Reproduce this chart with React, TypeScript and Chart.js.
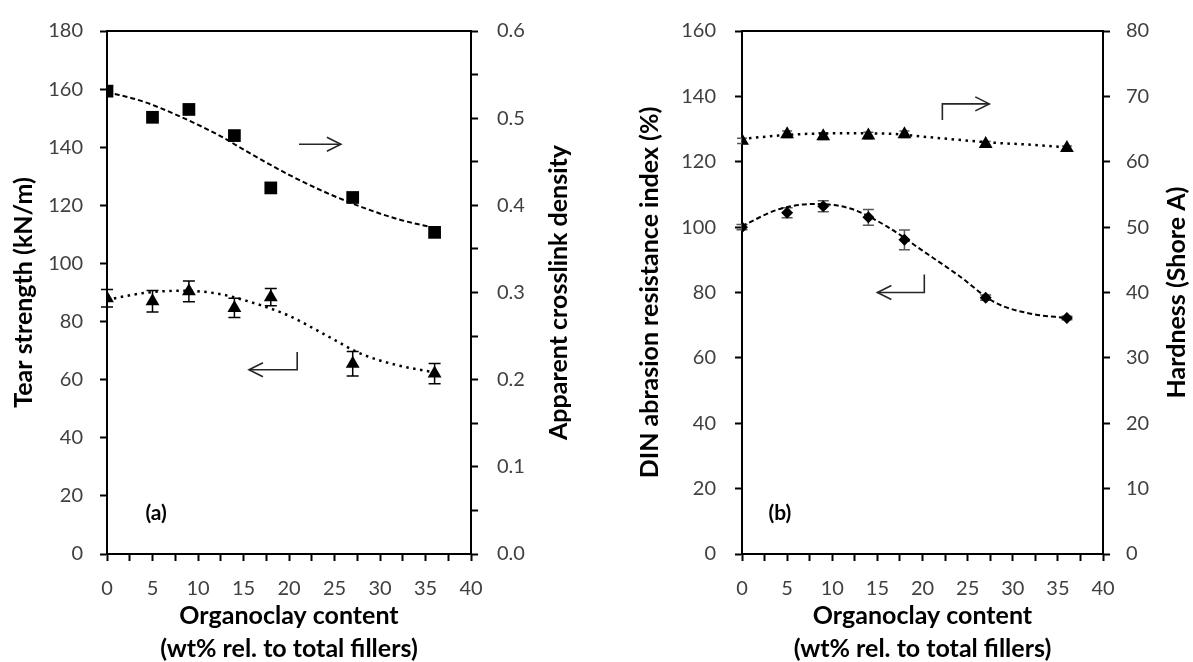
import React, { useEffect, useRef } from 'react';
import { Chart, registerables } from 'chart.js';

Chart.register(...registerables);

// ---------- data ----------
const organoclayContent = [0, 5, 9, 14, 18, 27, 36];

// panel (a)
const tearStrength = [88, 87, 90.4, 84.7, 88.4, 65.5, 62.1];
const tearStrengthError = [3, 3.7, 3.6, 3.3, 3, 4.2, 3.5];
const crosslinkDensity = [0.531, 0.501, 0.51, 0.48, 0.42, 0.409, 0.369];

// panel (b)
const dinAbrasionIndex = [100, 104.4, 106.4, 103.0, 96.1, 78.4, 72.2];
const dinAbrasionError = [0.8, 1.5, 1.7, 2.4, 3, 0.8, 0.5];
const hardnessShoreA = [63.2, 64.2, 63.9, 64.0, 64.2, 62.7, 62.1];
const hardnessError = [0.4, 0.5, 0.5, 0.5, 0.5, 0.4, 0.3];

// trend lines
const trendContent = [0, 4, 8, 12, 16, 20, 24, 28, 32, 36];
const tearTrend = [87.5, 89.8, 90.6, 89.7, 86.5, 82, 75.4, 68.8, 64.9, 62.5];
const crosslinkTrend = [0.53, 0.519, 0.502, 0.482, 0.458, 0.435, 0.415, 0.398, 0.384, 0.374];
const dinTrend = [100.3, 105.4, 107.1, 105.7, 100.3, 92.8, 85.2, 77.0, 73.5, 72.2];
const hardnessTrend = [63.5, 64.0, 64.3, 64.35, 64.3, 63.85, 63.35, 62.9, 62.6, 62.2];

const xTitleLines = ['Organoclay content', '(wt% rel. to total fillers)'];

const FONT = 'Lato, "Open Sans", "DejaVu Sans", sans-serif';
const TICK_COLOR = '#404040';

const pts = (xs: number[], ys: number[]) => xs.map((x, i) => ({ x, y: ys[i] }));

const decorPlugin = {
  id: 'decor',
  beforeDatasetsDraw(chart: any) {
    const ctx = chart.ctx;
    chart.data.datasets.forEach((ds: any, di: number) => {
      if (!ds.errorBars) return;
      const meta = chart.getDatasetMeta(di);
      const yScale = chart.scales[ds.yAxisID];
      ctx.save();
      ctx.strokeStyle = ds.errorColor || '#000';
      ctx.lineWidth = 1.5;
      ds.data.forEach((p: any, i: number) => {
        const e = ds.errorBars[i];
        if (!e) return;
        const el = meta.data[i];
        const x = el.x;
        const yt = yScale.getPixelForValue(p.y + e);
        const yb = yScale.getPixelForValue(p.y - e);
        const w = ds.errorCap || 5.5;
        ctx.beginPath();
        ctx.moveTo(x, yt);
        ctx.lineTo(x, yb);
        ctx.moveTo(x - w, yt);
        ctx.lineTo(x + w, yt);
        ctx.moveTo(x - w, yb);
        ctx.lineTo(x + w, yb);
        ctx.stroke();
      });
      ctx.restore();
    });
  },
  afterDraw(chart: any) {
    const cfg = chart.options.plugins.decor;
    if (!cfg) return;
    const ctx = chart.ctx;
    const a = chart.chartArea;
    ctx.save();
    // top frame line
    ctx.strokeStyle = '#000';
    ctx.lineWidth = 2;
    ctx.beginPath();
    ctx.moveTo(a.left - 1, a.top);
    ctx.lineTo(a.right + 1, a.top);
    ctx.stroke();

    // axis titles
    ctx.fillStyle = '#000';
    ctx.font = `bold 25px ${FONT}`;
    ctx.textAlign = 'center';
    ctx.textBaseline = 'middle';
    const cx = (a.left + a.right) / 2;
    ctx.fillText(xTitleLines[0], cx, a.bottom + 62);
    ctx.fillText(xTitleLines[1], cx, a.bottom + 95);
    const cy = (a.top + a.bottom) / 2;
    const ys: [string, number][] = [
      [cfg.yLeftTitle, cfg.yLeftX],
      [cfg.yRightTitle, cfg.yRightX],
    ];
    ys.forEach(([t, x]) => {
      ctx.save();
      ctx.translate(x, cy);
      ctx.rotate(-Math.PI / 2);
      ctx.fillText(t, 0, 0);
      ctx.restore();
    });

    const xs = chart.scales.x;
    const yl = chart.scales.y;
    // panel label
    ctx.font = `bold 21px ${FONT}`;
    ctx.fillText(cfg.panelLabel.text, xs.getPixelForValue(cfg.panelLabel.x), yl.getPixelForValue(cfg.panelLabel.y));

    // arrows
    ctx.strokeStyle = '#262626';
    ctx.lineWidth = 1.6;
    cfg.arrows.forEach((arr: number[][]) => {
      const P = arr.map(([vx, vy]) => [xs.getPixelForValue(vx), yl.getPixelForValue(vy)]);
      ctx.beginPath();
      P.forEach(([px, py], i) => (i ? ctx.lineTo(px, py) : ctx.moveTo(px, py)));
      ctx.stroke();
      const [x1, y1] = P[P.length - 2];
      const [x2, y2] = P[P.length - 1];
      const ang = Math.atan2(y2 - y1, x2 - x1);
      const L = 14;
      const W = 7;
      const bx = x2 - L * Math.cos(ang);
      const by = y2 - L * Math.sin(ang);
      const nx = -Math.sin(ang) * W;
      const ny = Math.cos(ang) * W;
      ctx.beginPath();
      ctx.moveTo(bx + nx, by + ny);
      ctx.lineTo(x2, y2);
      ctx.lineTo(bx - nx, by - ny);
      ctx.stroke();
    });
    ctx.restore();
  },
};

function axisCommon(width: number | null, padding: number) {
  return {
    border: { display: true, color: '#000', width: 2 },
    grid: { drawOnChartArea: false, drawTicks: true, tickLength: 7, tickWidth: 2, tickColor: '#000', color: '#000' },
    ticks: { color: TICK_COLOR, font: { family: FONT, size: 20 }, padding, autoSkip: false, maxRotation: 0 },
    afterFit: (s: any) => {
      if (width !== null) s.width = width;
    },
  };
}

function xAxis() {
  const c: any = axisCommon(null, 16);
  return {
    type: 'linear',
    min: 0,
    max: 40,
    ...c,
    ticks: { ...c.ticks, stepSize: 2.5, callback: (v: number) => (Math.abs(v % 5) < 1e-9 ? String(v) : '') },
    afterFit: (s: any) => {
      s.height = 108;
    },
  };
}

function buildConfig(panel: 'a' | 'b'): any {
  if (panel === 'a') {
    const yl: any = axisCommon(107, 17);
    const yr: any = axisCommon(125, 19);
    return {
      type: 'scatter',
      data: {
        datasets: [
          {
            label: 'Apparent crosslink density',
            data: pts(organoclayContent, crosslinkDensity),
            yAxisID: 'y1',
            pointStyle: 'rect',
            pointRadius: 9,
            backgroundColor: '#000',
            borderColor: '#000',
            borderWidth: 0,
          },
          {
            label: 'Tear strength',
            data: pts(organoclayContent, tearStrength),
            yAxisID: 'y',
            pointStyle: 'triangle',
            pointRadius: 8,
            backgroundColor: '#000',
            borderColor: '#000',
            borderWidth: 0,
            errorBars: tearStrengthError,
            errorColor: '#000',
            errorCap: 6,
          },
          {
            label: 'Crosslink trend',
            data: pts(trendContent, crosslinkTrend),
            yAxisID: 'y1',
            showLine: true,
            pointRadius: 0,
            borderColor: '#000',
            borderWidth: 2,
            borderDash: [5, 3],
            cubicInterpolationMode: 'monotone',
            fill: false,
          },
          {
            label: 'Tear trend',
            data: pts(trendContent, tearTrend),
            yAxisID: 'y',
            showLine: true,
            pointRadius: 0,
            borderColor: '#000',
            borderWidth: 2.5,
            borderDash: [2.5, 4.5],
            cubicInterpolationMode: 'monotone',
            fill: false,
          },
        ],
      },
      options: {
        responsive: false,
        animation: false,
        layout: { padding: { top: 24, left: 0, right: 0, bottom: 0 } },
        plugins: {
          legend: { display: false },
          tooltip: { enabled: false },
          decor: {
            yLeftTitle: 'Tear strength (kN/m)',
            yLeftX: 24,
            yRightTitle: 'Apparent crosslink density',
            yRightX: 559,
            panelLabel: { text: '(a)', x: 5.4, y: 14 },
            arrows: [
              [
                [21.1, 141],
                [25.7, 141],
              ],
              [
                [20.9, 69.5],
                [20.9, 63.4],
                [15.6, 63.4],
              ],
            ],
          },
        },
        scales: {
          x: xAxis(),
          y: { ...yl, type: 'linear', position: 'left', min: 0, max: 180, ticks: { ...yl.ticks, stepSize: 20 } },
          y1: {
            ...yr,
            type: 'linear',
            position: 'right',
            min: 0,
            max: 0.6,
            ticks: {
              ...yr.ticks,
              stepSize: 0.05,
              callback: (v: number) => (Math.round(v * 100) % 10 === 0 ? v.toFixed(1) : ''),
            },
          },
        },
      },
      plugins: [decorPlugin],
    };
  }
  const yl: any = axisCommon(146, 19);
  const yr: any = axisCommon(90, 16);
  return {
    type: 'scatter',
    data: {
      datasets: [
        {
          label: 'Hardness',
          data: pts(organoclayContent, hardnessShoreA),
          yAxisID: 'y1',
          pointStyle: 'triangle',
          pointRadius: 8,
          backgroundColor: '#000',
          borderColor: '#000',
          borderWidth: 0,
          errorBars: hardnessError,
          errorColor: '#595959',
          errorCap: 5,
        },
        {
          label: 'DIN abrasion resistance index',
          data: pts(organoclayContent, dinAbrasionIndex),
          yAxisID: 'y',
          pointStyle: 'rectRot',
          pointRadius: 6,
          backgroundColor: '#000',
          borderColor: '#000',
          borderWidth: 0,
          errorBars: dinAbrasionError,
          errorColor: '#595959',
          errorCap: 5.5,
        },
        {
          label: 'Hardness trend',
          data: pts(trendContent, hardnessTrend),
          yAxisID: 'y1',
          showLine: true,
          pointRadius: 0,
          borderColor: '#000',
          borderWidth: 2.5,
          borderDash: [2.5, 4.5],
          cubicInterpolationMode: 'monotone',
          fill: false,
        },
        {
          label: 'DIN trend',
          data: pts(trendContent, dinTrend),
          yAxisID: 'y',
          showLine: true,
          pointRadius: 0,
          borderColor: '#000',
          borderWidth: 2,
          borderDash: [5, 3],
          cubicInterpolationMode: 'monotone',
          fill: false,
        },
      ],
    },
    options: {
      responsive: false,
      animation: false,
      layout: { padding: { top: 24, left: 0, right: 0, bottom: 0 } },
      plugins: {
        legend: { display: false },
        tooltip: { enabled: false },
        decor: {
          yLeftTitle: 'DIN abrasion resistance index (%)',
          yLeftX: 53.5,
          yRightTitle: 'Hardness (Shore A)',
          yRightX: 580.5,
          panelLabel: { text: '(b)', x: 4.2, y: 12.4 },
          arrows: [
            [
              [22.2, 132.8],
              [22.2, 137.7],
              [27.4, 137.7],
            ],
            [
              [20.2, 85.5],
              [20.2, 80.0],
              [15.0, 80.0],
            ],
          ],
        },
      },
      scales: {
        x: xAxis(),
        y: { ...yl, type: 'linear', position: 'left', min: 0, max: 160, ticks: { ...yl.ticks, stepSize: 20 } },
        y1: { ...yr, type: 'linear', position: 'right', min: 0, max: 80, ticks: { ...yr.ticks, stepSize: 10 } },
      },
    },
    plugins: [decorPlugin],
  };
}

function Panel({ panel, left, width }: { panel: 'a' | 'b'; left: number; width: number }) {
  const ref = useRef<HTMLCanvasElement | null>(null);
  useEffect(() => {
    if (!ref.current) return;
    const chart = new Chart(ref.current, buildConfig(panel));
    return () => chart.destroy();
  }, [panel]);
  return (
    <canvas
      ref={ref}
      width={width}
      height={662}
      style={{ position: 'absolute', left, top: 0, width, height: 662 }}
    />
  );
}

export default function App() {
  return (
    <div style={{ position: 'fixed', left: 0, top: 0, width: 1193, height: 662, background: '#fff', overflow: 'hidden' }}>
      <Panel panel="a" left={0} width={596} />
      <Panel panel="b" left={596} width={597} />
    </div>
  );
}
